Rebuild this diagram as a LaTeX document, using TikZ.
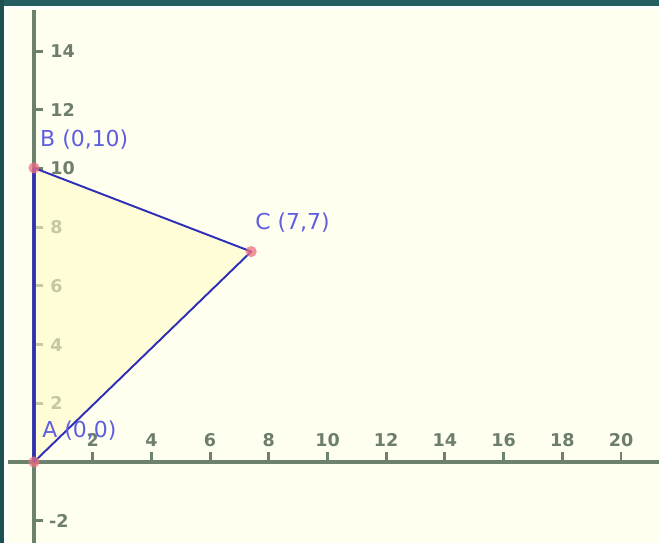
\documentclass[tikz,border=0pt]{standalone}
\usepackage{fontspec}
\setmainfont{DejaVu Sans}
\usepackage{tikz}
\definecolor{paper}{HTML}{FFFFF0}
\definecolor{framebar}{HTML}{245E60}
\definecolor{axisgreen}{HTML}{6C826C}
\definecolor{ticktext}{HTML}{6E7E6C}
\definecolor{edgeblue}{HTML}{2E2EB8}
\definecolor{labelblue}{HTML}{5E5EE0}
\definecolor{vertexred}{HTML}{EE7080}
\tikzset{
  axisline/.style={line width=2.2pt, draw=axisgreen},
  tickmark/.style={line width=1.6pt, draw=axisgreen},
  ticklabel/.style={font=\bfseries\fontsize{10}{12}\selectfont, text=ticktext, inner sep=0pt},
  trifill/.style={fill=yellow!22, fill opacity=0.6},
  triedge/.style={line width=1.1pt, draw=edgeblue, line join=round},
  sideedge/.style={line width=2.2pt, draw=edgeblue!75!axisgreen},
  vertex/.style={fill=vertexred, fill opacity=0.75},
  vertexlabel/.style={font=\fontsize{12.5}{14}\selectfont, text=labelblue, inner sep=0pt, anchor=west},
}

\begin{document}
\begin{tikzpicture}[x=0.587cm, y=0.587cm]
\useasboundingbox (-1.1584,-2.7598) rectangle (21.2947,15.7411);
\fill[paper] (-1.1584,-2.7598) rectangle (21.2947,15.7411);
% frame
\fill[white] (-1.1584,-2.7598) rectangle (-0.90,15.7411);
\fill[white] (-1.1584,15.43) rectangle (21.2947,15.7411);
\fill[framebar] (-1.1584,15.53) rectangle (21.2947,15.7411);
\fill[framebar!85!black] (-1.1584,-2.7598) rectangle (-1.02,15.7411);
% axes
\draw[axisline] (-0.886,0) -- (21.2947,0);
\draw[axisline] (0,-2.7598) -- (0,15.40);
% x ticks
\draw[tickmark] (2,0) -- (2,0.34);
\draw[tickmark] (4,0) -- (4,0.34);
\draw[tickmark] (6,0) -- (6,0.34);
\draw[tickmark] (8,0) -- (8,0.34);
\draw[tickmark] (10,0) -- (10,0.34);
\draw[tickmark] (12,0) -- (12,0.34);
\draw[tickmark] (14,0) -- (14,0.34);
\draw[tickmark] (16,0) -- (16,0.34);
\draw[tickmark] (18,0) -- (18,0.34);
\draw[tickmark] (20,0) -- (20,0.34);
\node[ticklabel] (x2) at (2,0.75) {2};
\node[ticklabel] (x4) at (4,0.75) {4};
\node[ticklabel] (x6) at (6,0.75) {6};
\node[ticklabel] (x8) at (8,0.75) {8};
\node[ticklabel] (x10) at (10,0.75) {10};
\node[ticklabel] (x12) at (12,0.75) {12};
\node[ticklabel] (x14) at (14,0.75) {14};
\node[ticklabel] (x16) at (16,0.75) {16};
\node[ticklabel] (x18) at (18,0.75) {18};
\node[ticklabel] (x20) at (20,0.75) {20};
% y ticks
\draw[tickmark] (0,-2) -- (0.3,-2);
\draw[tickmark] (0,2) -- (0.3,2);
\draw[tickmark] (0,4) -- (0.3,4);
\draw[tickmark] (0,6) -- (0.3,6);
\draw[tickmark] (0,8) -- (0.3,8);
\draw[tickmark] (0,10) -- (0.3,10);
\draw[tickmark] (0,12) -- (0.3,12);
\draw[tickmark] (0,14) -- (0.3,14);
\node[ticklabel, anchor=west] (ym2) at (0.5,-2) {-2};
\node[ticklabel, anchor=west] (y2) at (0.55,2) {2};
\node[ticklabel, anchor=west] (y4) at (0.55,4) {4};
\node[ticklabel, anchor=west] (y6) at (0.55,6) {6};
\node[ticklabel, anchor=west] (y8) at (0.55,8) {8};
\node[ticklabel, anchor=west] (y10) at (0.55,10) {10};
\node[ticklabel, anchor=west] (y12) at (0.55,12) {12};
\node[ticklabel, anchor=west] (y14) at (0.55,14) {14};
% triangle
\coordinate (A) at (0,0);
\coordinate (B) at (0,10.02);
\coordinate (C) at (7.40,7.17);
\fill[trifill] (A) -- (B) -- (C) -- cycle;
\draw[sideedge] (A) -- (B);
\draw[triedge] (A) -- (B) -- (C) -- cycle;
\fill[vertex] (A) circle (0.19);
\fill[vertex] (B) circle (0.19);
\fill[vertex] (C) circle (0.19);
\node[vertexlabel] (labA) at (0.27,1.06) {A (0,0)};
\node[vertexlabel] (labB) at (0.2,10.97) {B (0,10)};
\node[vertexlabel] (labC) at (7.53,8.16) {C (7,7)};
\end{tikzpicture}
\end{document}
